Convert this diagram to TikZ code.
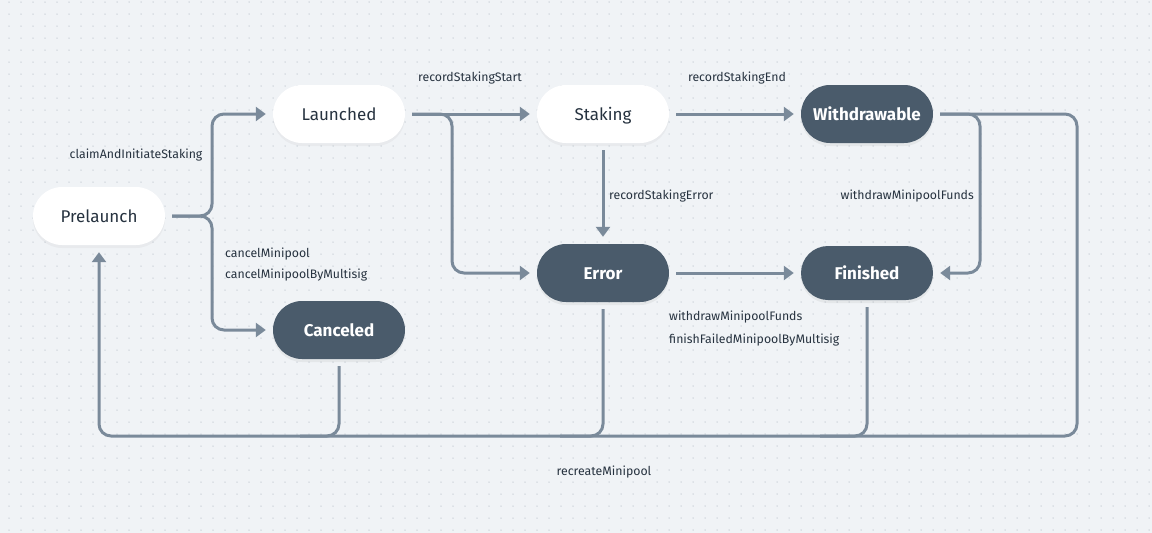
\documentclass[tikz,border=0pt]{standalone}
\usepackage{fontspec}
\setmainfont{Fira Sans}
\usetikzlibrary{arrows.meta,shadows}
\definecolor{bgc}{HTML}{F0F3F6}
\definecolor{dotc}{HTML}{C8CFD7}
\definecolor{linec}{HTML}{7A8A9A}
\definecolor{darkn}{HTML}{4A5B6B}
\definecolor{txtc}{HTML}{26323F}
\tikzset{
  statebox/.style={rounded corners=29pt, minimum width=132pt, minimum height=58pt, inner sep=0pt, text height=14pt, text depth=2pt, font=\fontsize{17}{20}\selectfont},
  lightstate/.style={statebox, fill=white, text=txtc, drop shadow={opacity=0.07, shadow xshift=0pt, shadow yshift=-3pt}},
  darkstate/.style={statebox, fill=darkn, text=white, font=\fontsize{17}{20}\selectfont\bfseries, drop shadow={opacity=0.10, shadow xshift=0pt, shadow yshift=-3pt}},
  conn/.style={draw=linec, line width=3pt, rounded corners=12pt, -{Triangle[length=10pt,width=14pt]}, shorten <=7pt, shorten >=7pt},
  plain/.style={draw=linec, line width=3pt, rounded corners=12pt, shorten <=7pt},
  lbl/.style={text=txtc, font=\fontsize{12.3}{14}\selectfont, inner sep=0pt, yshift=-2.5pt},
}
\begin{document}
\begin{tikzpicture}[x=1pt,y=-1pt]
\fill[bgc] (0,0) rectangle (1152,533);
\useasboundingbox (0,0) rectangle (1152,533);
\foreach \i in {0,...,95}{\foreach \j in {0,...,44}{\fill[dotc] (9+12*\i,2+12*\j) circle (0.75);}}

\node[lightstate] (prel) at (99,216) {Prelaunch};
\node[lightstate] (laun) at (339,114) {Launched};
\node[lightstate] (stak) at (603,114) {Staking};
\node[darkstate] (wdr) at (867,114) {Withdrawable};
\node[darkstate] (err) at (603,273) {Error};
\node[darkstate, minimum height=54pt, rounded corners=27pt] (fin) at (867,273) {Finished};
\node[darkstate] (canc) at (339,330) {Canceled};

\draw[conn] (prel.east) -- (212,216) -- (212,114) -- (laun.west);
\draw[conn] (prel.east) -- (212,216) -- (212,330) -- (canc.west);
\draw[conn] (laun.east) -- (stak.west);
\draw[conn] (laun.east) -- (452,114) -- (452,273) -- (err.west);
\draw[conn] (stak.east) -- (wdr.west);
\draw[conn] (stak.south) -- (err.north);
\draw[conn] (err.east) -- (fin.west);
\draw[conn] (wdr.east) -- (980,114) -- (980,273) -- (fin.east);
\draw[conn] (wdr.east) -- (1077,114) -- (1077,436) -- (99,436) -- (prel.south);
\draw[plain] (canc.south) -- (339,436) -- (300,436);
\draw[plain] (err.south) -- (603,436) -- (560,436);
\draw[plain] (fin.south) -- (867,436) -- (820,436);

\node[lbl] (l1) at (136,153) {claimAndInitiateStaking};
\node[lbl] (l2) at (470,76) {recordStakingStart};
\node[lbl] (l3) at (737,76) {recordStakingEnd};
\node[lbl, anchor=mid west] (l4) at (609,194) {recordStakingError};
\node[lbl, anchor=mid east] (l5) at (974,194) {withdrawMinipoolFunds};
\node[lbl, anchor=mid west] (l6) at (225,252) {cancelMinipool};
\node[lbl, anchor=mid west] (l7) at (225,273) {cancelMinipoolByMultisig};
\node[lbl, anchor=mid west] (l8) at (669,315) {withdrawMinipoolFunds};
\node[lbl, anchor=mid west] (l9) at (669,338) {finishFailedMinipoolByMultisig};
\node[lbl] (l10) at (604,470) {recreateMinipool};
\end{tikzpicture}
\end{document}
